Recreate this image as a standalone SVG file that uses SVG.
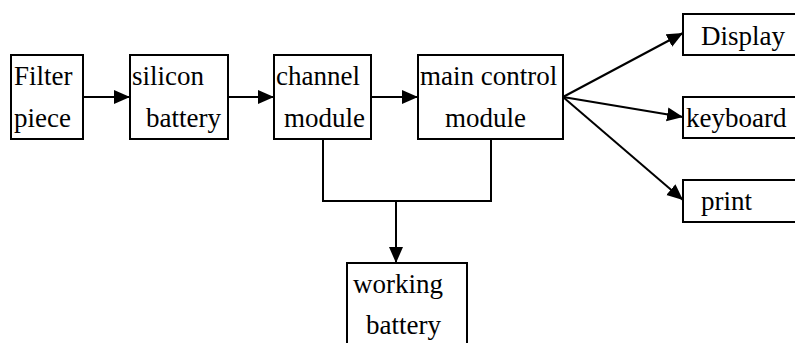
<svg xmlns="http://www.w3.org/2000/svg" width="795" height="343" viewBox="0 0 795 343">
<style>
.box{fill:#fff;stroke:#000;stroke-width:2}
.ln{fill:none;stroke:#000;stroke-width:2}
</style>
<defs>
<marker id="ah" markerUnits="userSpaceOnUse" markerWidth="17" markerHeight="15" refX="16" refY="7" orient="auto">
<path d="M0,0 L16,7 L0,14 z" fill="#000"/>
</marker>
</defs>
<rect width="795" height="343" fill="#fff"/>
<g id="connectors">
<line class="ln" x1="83" y1="97" x2="130" y2="97" marker-end="url(#ah)"/>
<line class="ln" x1="228" y1="97" x2="274" y2="97" marker-end="url(#ah)"/>
<line class="ln" x1="371" y1="97" x2="418" y2="97" marker-end="url(#ah)"/>
<line class="ln" x1="563" y1="97" x2="683" y2="33" marker-end="url(#ah)"/>
<line class="ln" x1="563" y1="97" x2="683" y2="117" marker-end="url(#ah)"/>
<line class="ln" x1="563" y1="97" x2="683" y2="200" marker-end="url(#ah)"/>
<polyline class="ln" points="323,139 323,201 491,201 491,139"/>
<line class="ln" x1="396" y1="201" x2="396" y2="263" marker-end="url(#ah)"/>
</g>
<g font-family="'Liberation Serif', 'Times New Roman', Times, 'DejaVu Serif', serif" font-size="27" fill="#000">
<g id="filter">
<rect class="box" x="11" y="55" width="72" height="84"/>
<text x="14" y="85">Filter</text>
<text x="14" y="127">piece</text>
</g>
<g id="silicon">
<rect class="box" x="130" y="55" width="98" height="84"/>
<text x="132" y="85">silicon</text>
<text x="146" y="127">battery</text>
</g>
<g id="channel">
<rect class="box" x="274" y="55" width="97" height="84"/>
<text x="276" y="85">channel</text>
<text x="284" y="127">module</text>
</g>
<g id="main">
<rect class="box" x="418" y="55" width="145" height="84"/>
<text x="420" y="85">main control</text>
<text x="445" y="127">module</text>
</g>
<g id="display">
<rect class="box" x="683" y="14" width="130" height="41"/>
<text x="701" y="45">Display</text>
</g>
<g id="keyboard">
<rect class="box" x="683" y="97" width="130" height="41"/>
<text x="686" y="127">keyboard</text>
</g>
<g id="print">
<rect class="box" x="683" y="180" width="130" height="42"/>
<text x="701" y="210">print</text>
</g>
<g id="working">
<rect class="box" x="347" y="263" width="120" height="100"/>
<text x="353" y="293">working</text>
<text x="366" y="334">battery</text>
</g>
</g>
</svg>
